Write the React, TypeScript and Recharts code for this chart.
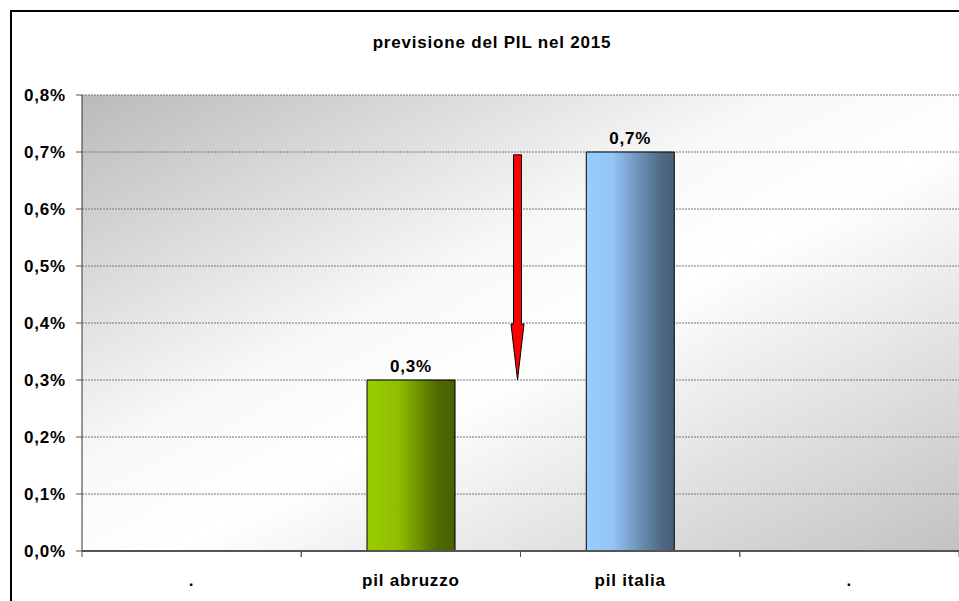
import React from 'react';
import { BarChart, Bar, Cell, CartesianGrid, XAxis, YAxis, LabelList, ReferenceLine } from 'recharts';

const categories = ['.', 'pil abruzzo', 'pil italia', '.'];
const pilValues: (number | null)[] = [null, 0.3, 0.7, null];
const yTicks = [0, 0.1, 0.2, 0.3, 0.4, 0.5, 0.6, 0.7, 0.8];
const arrowFrom = { x: 'pil abruzzo', y: 0.695 };
const arrowTo = { x: 'pil italia', y: 0.3 };

const FONT = '"Liberation Sans", Arial, sans-serif';

const data = categories.map((name, i) => ({ name, pil: pilValues[i] }));

const fmt = (v: any) => (v == null ? '' : `${Number(v).toFixed(1).replace('.', ',')}%`);

const textStyle = { fontFamily: FONT, fontSize: 17, fontWeight: 700, fill: '#000', letterSpacing: 0.8 };

const CategoryTick = (props: any) => {
  const { x, y, payload } = props;
  const half = payload?.offset ?? 109.5;
  return (
    <g>
      <line x1={x - half} y1={y} x2={x - half} y2={y + 6} stroke="#555" />
      <line x1={x + half} y1={y} x2={x + half} y2={y + 6} stroke="#555" />
      <text x={x} y={y + 35} textAnchor="middle" style={textStyle}>
        {payload.value}
      </text>
    </g>
  );
};

// freccia rossa tra i due valori
const DownArrow = (props: any) => {
  const { x1, y1, x2, y2 } = props;
  if (x1 == null || y2 == null) return null;
  const cx = (x1 + x2) / 2 - 3;
  const top = y1;
  const tip = y2;
  const headStart = tip - 56;
  const d = `M${cx - 4},${top} L${cx + 4},${top} L${cx + 4},${headStart} L${cx + 6.5},${headStart} L${cx},${tip} L${cx - 6.5},${headStart} L${cx - 4},${headStart} Z`;
  return <path d={d} fill="#ff0000" stroke="#000" strokeWidth={1} />;
};

export default function App() {
  return (
    <div style={{ position: 'fixed', left: 0, top: 0, width: 959, height: 601, overflow: 'hidden', background: '#fff' }}>
      <div style={{ position: 'absolute', left: 10, top: 10, width: 990, height: 600, border: '2px solid #000' }}>
        <div
          style={{
            position: 'absolute',
            left: 0,
            top: 21,
            width: 960,
            textAlign: 'center',
            fontFamily: FONT,
            fontSize: 17,
            fontWeight: 700,
            letterSpacing: 0.8,
          }}
        >
          previsione del PIL nel 2015
        </div>
        <BarChart
          width={960}
          height={600}
          data={data}
          margin={{ top: 83, right: 13, left: 0, bottom: 21 }}
          barCategoryGap="30%"
        >
          <defs>
            <linearGradient id="bgGrad" x1="0" y1="0" x2="1" y2="1">
              <stop offset="0%" stopColor="#bababa" />
              <stop offset="40%" stopColor="#f8f8f8" />
              <stop offset="55%" stopColor="#ffffff" />
              <stop offset="100%" stopColor="#c2c2c2" />
            </linearGradient>
            <linearGradient id="greenGrad" x1="0" y1="0" x2="1" y2="0">
              <stop offset="0%" stopColor="#9acd00" />
              <stop offset="35%" stopColor="#8fbf00" />
              <stop offset="80%" stopColor="#506a00" />
              <stop offset="100%" stopColor="#4a6000" />
            </linearGradient>
            <linearGradient id="blueGrad" x1="0" y1="0" x2="1" y2="0">
              <stop offset="0%" stopColor="#99ccff" />
              <stop offset="30%" stopColor="#92c4f5" />
              <stop offset="85%" stopColor="#4f6984" />
              <stop offset="100%" stopColor="#4a5f78" />
            </linearGradient>
          </defs>
          <CartesianGrid vertical={false} fill="url(#bgGrad)" stroke="#777" strokeDasharray="2 1" />
          <XAxis
            dataKey="name"
            height={40}
            tickLine={false}
            tickSize={0}
            tickMargin={0}
            axisLine={{ stroke: '#555', strokeWidth: 2 }}
            tick={<CategoryTick />}
            interval={0}
          />
          <YAxis
            width={70}
            domain={[0, 0.8]}
            ticks={yTicks}
            tickFormatter={fmt}
            tickSize={6}
            tickMargin={10}
            axisLine={{ stroke: '#333' }}
            tickLine={{ stroke: '#555' }}
            tick={textStyle}
          />
          <Bar dataKey="pil" stroke="#000" strokeWidth={1} isAnimationActive={false}>
            {data.map((d, i) => (
              <Cell key={i} fill={d.name === 'pil italia' ? 'url(#blueGrad)' : 'url(#greenGrad)'} />
            ))}
            <LabelList dataKey="pil" position="top" offset={8} formatter={fmt} style={textStyle} />
          </Bar>
          <ReferenceLine segment={[arrowFrom, arrowTo]} shape={<DownArrow />} />
        </BarChart>
      </div>
    </div>
  );
}
